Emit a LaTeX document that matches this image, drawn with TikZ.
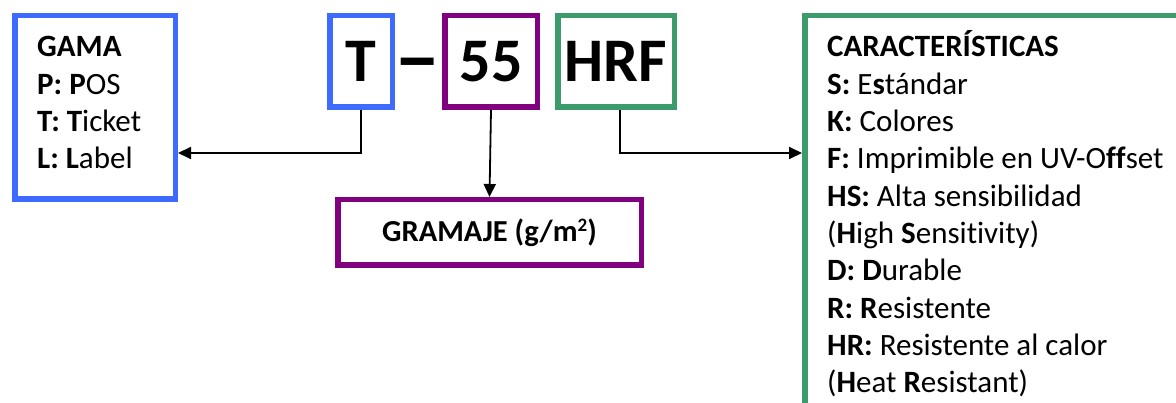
\documentclass[tikz,border=0pt]{standalone}
\usepackage{fontspec}
\setmainfont{Carlito}[Ligatures=NoCommon]
\usetikzlibrary{arrows.meta}
\definecolor{gblue}{RGB}{61,107,255}
\definecolor{gpurple}{RGB}{128,0,128}
\definecolor{ggreen}{RGB}{60,155,107}
\begin{document}
\begin{tikzpicture}[x=1pt,y=-1pt,
  box/.style={draw,line width=5.5pt,inner sep=0pt,rectangle},
  big/.style={font=\fontsize{62}{62}\selectfont\bfseries},
  txt/.style={anchor=base west,inner sep=0pt,font=\fontsize{31}{36}\selectfont},
  arr/.style={line width=1.8pt,-{Triangle[length=13pt,width=12pt]}}]
\useasboundingbox (0,0) rectangle (1176,403);
\clip (0,0) rectangle (1176,403);
% boxes
\node[box,draw=gblue,minimum width=160.5pt,minimum height=183.5pt] (gama) at (95,107.5) {};
\node[box,draw=gblue,minimum width=62.5pt,minimum height=91.5pt,big] (T) at (361,61.5) {T};
\node[big,anchor=base,inner sep=0pt] (dash) at (417.5,86) {\scalebox{1.5}[1.35]{–}};
\node[box,draw=gpurple,minimum width=92.5pt,minimum height=91.5pt,big] (c55) at (491,61.5) {55};
\node[box,draw=ggreen,minimum width=116.5pt,minimum height=91.5pt,big] (HRF) at (616,61.5) {HRF};
\node[box,draw=gpurple,minimum width=303.5pt,minimum height=65.5pt,font=\fontsize{30.5}{36}\selectfont\bfseries] (gram) at (489.5,232.5) {GRAMAJE (g/m\raisebox{10pt}{\fontsize{19}{19}\selectfont 2})};
\node[box,draw=ggreen,minimum width=395.25pt,minimum height=414.25pt] (carac) at (1002.375,222.875) {};
% connectors
\coordinate (arrowY) at (0,153);
\draw[arr] (T.south) |- (gama.east |- arrowY);
\draw[arr] (c55.south) -- (gram.north);
\draw[arr] ([xshift=4pt]HRF.south) |- (carac.west |- arrowY);
% left text
\node[txt] (g0) at (37,57) {\textbf{GAMA}};
\node[txt] (g1) at (37,94.3) {\textbf{P: P}OS};
\node[txt] (g2) at (37,131.6) {\textbf{T: T}icket};
\node[txt] (g3) at (37,168.9) {\textbf{L: L}abel};
% right text
\node[txt] (r0) at (827,57) {\textbf{CARACTERÍSTICAS}};
\node[txt] (r1) at (827,94.3) {\textbf{S:} E\textbf{s}tándar};
\node[txt] (r2) at (827,131.6) {\textbf{K:} Colores};
\node[txt] (r3) at (827,168.9) {\textbf{F:} Imprimible en UV-O\textbf{ff}set};
\node[txt] (r4) at (827,206.2) {\textbf{HS:} Alta sensibilidad};
\node[txt] (r5) at (827,243.5) {(\textbf{H}igh \textbf{S}ensitivity)};
\node[txt] (r6) at (827,280.8) {\textbf{D: D}urable};
\node[txt] (r7) at (827,318.1) {\textbf{R: R}esistente};
\node[txt] (r8) at (827,355.4) {\textbf{HR:} Resistente al calor};
\node[txt] (r9) at (827,392.7) {(\textbf{H}eat \textbf{R}esistant)};
\end{tikzpicture}
\end{document}
